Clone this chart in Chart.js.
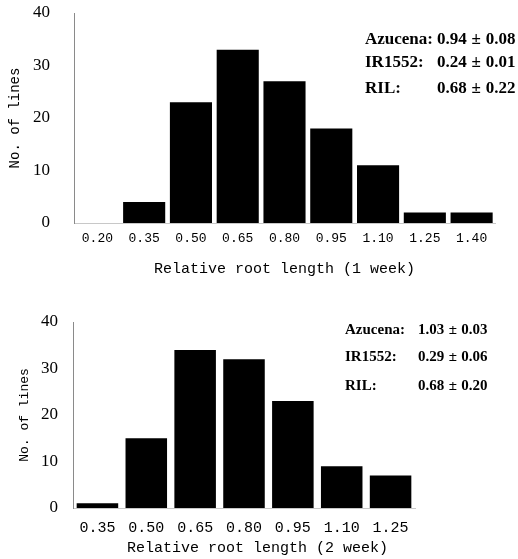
<!DOCTYPE html>
<html>
<head>
<meta charset="utf-8">
<script src="https://cdn.jsdelivr.net/npm/chart.js@4.4.1/dist/chart.umd.min.js"></script>
<style>
  body { margin: 0; background: #fff; width: 518px; height: 559px; overflow: hidden; position: relative; }
  canvas { position: absolute; left: 0; }
  #week1 { top: 0; }
  #week2 { top: 280px; }
</style>
</head>
<body>
<canvas id="week1" width="518" height="280"></canvas>
<canvas id="week2" width="518" height="279"></canvas>
<script>
// histogram data
const week1Labels = ['0.20', '0.35', '0.50', '0.65', '0.80', '0.95', '1.10', '1.25', '1.40'];
const week1Counts = [0, 4, 23, 33, 27, 18, 11, 2, 2];

const week2Labels = ['0.35', '0.50', '0.65', '0.80', '0.95', '1.10', '1.25'];
const week2Counts = [1, 15, 34, 32, 23, 9, 7];

const yMax = 40;
const yStep = 10;

// mean +- sd text in the corner
const statNames = ['Azucena:', 'IR1552:', 'RIL:'];
const week1Stats = ['0.94±0.08', '0.24±0.01', '0.68±0.22'];
const week2Stats = ['1.03±0.03', '0.29±0.06', '0.68±0.20'];

// draws the little stats block (the ± sign gets some room, like in the print)
const statsText = {
  id: 'statsText',
  afterDraw(chart, args, opts) {
    const ctx = chart.ctx;
    ctx.save();
    ctx.font = opts.font;
    ctx.fillStyle = '#000';
    ctx.textBaseline = 'middle';
    opts.names.forEach((name, i) => {
      const y = opts.y[i];
      ctx.textAlign = 'left';
      ctx.fillText(name, opts.nameX, y);
      const parts = opts.values[i].split('±');
      let x = opts.valueX;
      ctx.fillText(parts[0], x, y);
      x += ctx.measureText(parts[0]).width;
      ctx.textAlign = 'center';
      ctx.fillText('±', x + opts.pmWidth / 2, y);
      x += opts.pmWidth;
      ctx.textAlign = 'left';
      ctx.fillText(parts[1], x, y);
    });
    ctx.restore();
  }
};

function makeChart(id, labels, counts, stats, cfg) {
  return new Chart(document.getElementById(id), {
    type: 'bar',
    data: {
      labels: labels,
      datasets: [{
        data: counts,
        backgroundColor: '#000',
        borderWidth: 0,
        barPercentage: cfg.barPct,
        categoryPercentage: 1
      }]
    },
    options: {
      responsive: false,
      animation: false,
      layout: { padding: { top: cfg.top, right: cfg.right, bottom: 0, left: 0 } },
      plugins: {
        legend: { display: false },
        tooltip: { enabled: false },
        statsText: {
          font: cfg.statFont,
          names: statNames,
          values: stats,
          nameX: cfg.nameX,
          valueX: cfg.valueX,
          pmWidth: cfg.pmWidth,
          y: cfg.statY
        }
      },
      scales: {
        x: {
          grid: { display: false, drawTicks: false },
          border: { display: true, color: '#c8c8c8', dash: [1, 3] },
          ticks: {
            color: '#000',
            font: { family: 'Liberation Mono', size: cfg.xTickSize },
            padding: cfg.xTickPad,
            maxRotation: 0,
            autoSkip: false
          },
          title: {
            display: true,
            text: cfg.xTitle,
            color: '#000',
            font: { family: 'Liberation Mono', size: 15 },
            padding: { top: 0, bottom: 2 }
          },
          afterFit(scale) { scale.height = cfg.xHeight; }
        },
        y: {
          min: 0,
          max: yMax,
          grid: { display: false, drawTicks: false },
          border: { display: true, color: '#8a8a8a', dash: [2, 2] },
          ticks: {
            stepSize: yStep,
            color: '#000',
            font: { family: 'Liberation Serif', size: 17 },
            padding: cfg.yTickPad
          },
          title: {
            display: true,
            text: 'No. of lines',
            color: '#000',
            font: { family: 'Liberation Mono', size: cfg.yTitleSize },
            padding: { top: cfg.yTitlePad, bottom: 0 }
          },
          afterFit(scale) {
            scale.width = cfg.yWidth;
            // tick padding would otherwise push the plot area down
            scale.paddingTop = 0;
            scale.paddingBottom = 0;
          }
        }
      }
    },
    plugins: [statsText]
  });
}

makeChart('week1', week1Labels, week1Counts, week1Stats, {
  barPct: 0.9, top: 13, right: 23, xHeight: 57, yWidth: 74,
  xTickSize: 13, xTickPad: 8, xTitle: 'Relative root length (1 week)',
  yTickPad: 24, yTitleSize: 14, yTitlePad: 7,
  statFont: 'bold 17px "Liberation Serif"', nameX: 365, valueX: 437, pmWidth: 19, statY: [40, 63, 89]
});

makeChart('week2', week2Labels, week2Counts, week2Stats, {
  barPct: 0.85, top: 42, right: 103, xHeight: 51, yWidth: 73,
  xTickSize: 15, xTickPad: 11, xTitle: '   Relative root length (2 week)',
  yTickPad: 15, yTitleSize: 13, yTitlePad: 17,
  statFont: 'bold 15px "Liberation Serif"', nameX: 345, valueX: 418, pmWidth: 17, statY: [50, 77, 106]
});
</script>
</body>
</html>
